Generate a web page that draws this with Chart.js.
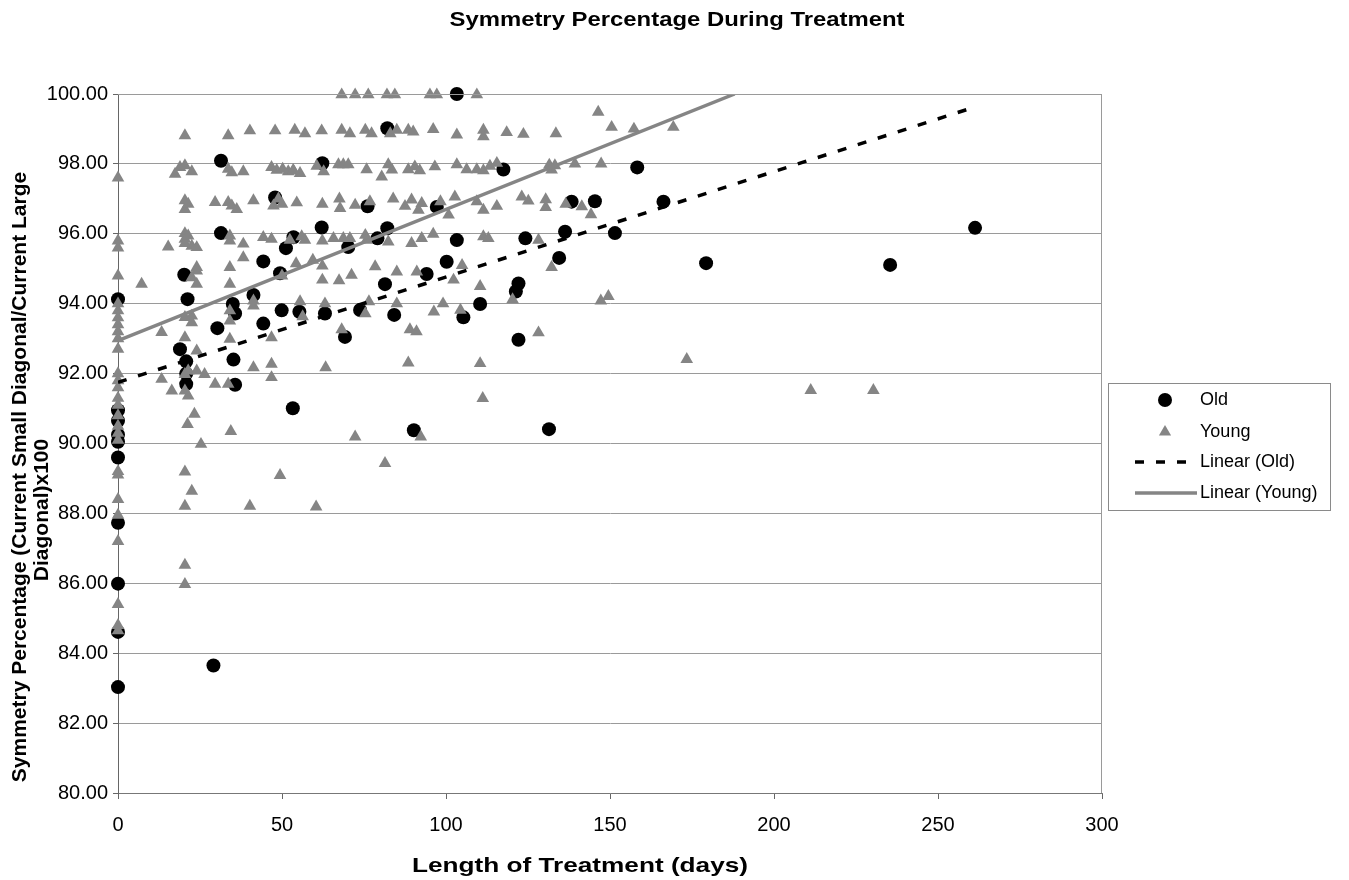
<!DOCTYPE html>
<html>
<head>
<meta charset="utf-8">
<title>Symmetry Percentage During Treatment</title>
<script src="https://cdn.jsdelivr.net/npm/chart.js@4.4.0/dist/chart.umd.min.js"></script>
<style>
  html, body { margin: 0; padding: 0; background: #fff; }
</style>
</head>
<body>
<canvas id="grafico-simetria" width="1349" height="880"></canvas>
<script>
// Old patients: [days of treatment, symmetry %]
const oldPoints = [
  [0, 94.13], [0, 90.95], [0, 90.65], [0, 90.25], [0, 90.05], [0, 89.6], [0, 87.73], [0, 85.99], [0, 84.61], [0, 83.03],
  [18.9, 92.7], [20.2, 94.83], [21.2, 94.13], [20.8, 92.35], [20.8, 92.0], [20.8, 91.7],
  [29.1, 83.65], [30.3, 93.3], [31.4, 98.09], [31.4, 96.02], [35.0, 93.99], [35.7, 93.72], [35.2, 92.4], [35.7, 91.68],
  [41.3, 94.25], [44.3, 95.21], [44.3, 93.43], [47.9, 97.04], [49.4, 94.87], [49.9, 93.81], [51.2, 95.59],
  [53.3, 91.01], [53.5, 95.9], [55.3, 93.77],
  [62.1, 96.18], [62.3, 98.02], [63.1, 93.72], [69.2, 93.05], [70.2, 95.62], [73.8, 93.82], [76.1, 96.79], [79.1, 95.87],
  [81.4, 94.56], [82.1, 99.02], [82.1, 96.16], [84.2, 93.68], [90.2, 90.38], [94.1, 94.85], [97.2, 96.77],
  [100.2, 95.2], [103.3, 100], [103.3, 95.82], [105.3, 93.61], [110.4, 93.99], [117.5, 97.84],
  [121.3, 94.35], [122.1, 94.58], [122.1, 92.97], [124.2, 95.87], [131.4, 90.41], [134.5, 95.31], [136.3, 96.06],
  [138.3, 96.92], [145.4, 96.93], [151.5, 96.02], [158.3, 97.9], [166.3, 96.92], [179.3, 95.16],
  [235.4, 95.11], [261.3, 96.17]
];

// Young patients: [days of treatment, symmetry %]
const youngPoints = [
  // start of treatment
  [0, 97.6], [0, 95.8], [0, 95.6], [0, 94.8], [0, 94.0], [0, 93.8], [0, 93.6], [0, 93.4], [0, 93.2], [0, 93.0],
  [0, 92.7], [0, 92.0], [0, 91.8], [0, 91.6], [0, 91.3], [0, 91.1], [0, 90.8], [0, 90.5], [0, 90.3], [0, 90.1],
  [0, 89.2], [0, 89.1], [0, 88.4], [0, 87.95], [0, 87.2], [0, 85.4], [0, 84.8], [0, 84.65],
  // first weeks
  [7.2, 94.56], [13.3, 93.18], [13.3, 91.84], [15.3, 95.63], [16.4, 91.51], [17.4, 97.71], [18.9, 97.9],
  [20.4, 98.81], [20.4, 97.95], [20.4, 96.95], [20.4, 96.7], [20.4, 96.01], [20.4, 95.85], [20.4, 95.73],
  [20.4, 93.61], [20.4, 93.03], [20.4, 91.98], [20.4, 91.51], [20.4, 89.19], [20.4, 88.21], [20.4, 86.52], [20.4, 85.97],
  [21.4, 96.85], [21.4, 95.94], [21.4, 92.08], [21.4, 91.36], [21.2, 90.55],
  [22.5, 97.78], [22.5, 95.65], [22.5, 94.75], [22.5, 93.65], [22.5, 93.46], [22.5, 88.64], [23.3, 90.84],
  [24.0, 95.61], [24.0, 95.04], [24.0, 94.94], [24.0, 94.56], [24.0, 92.65], [24.0, 92.08],
  [25.3, 89.98], [26.4, 91.98], [29.6, 96.9], [29.6, 91.7],
  [33.6, 98.81], [33.6, 97.85], [33.6, 96.9], [33.6, 91.7],
  [34.1, 95.94], [34.1, 95.8], [34.1, 95.04], [34.1, 94.56], [34.1, 93.8], [34.1, 93.51], [34.1, 92.99], [34.4, 90.35],
  [34.7, 97.75], [34.7, 96.8], [36.2, 96.7], [38.2, 97.78], [38.2, 95.71], [38.2, 95.32],
  [40.2, 98.95], [40.2, 88.21], [41.3, 96.95], [41.3, 93.94], [41.3, 94.08], [41.3, 92.17], [44.3, 95.9],
  [46.8, 97.9], [46.8, 95.85], [46.8, 93.03], [46.8, 92.27], [46.8, 91.89], [47.4, 96.8], [47.9, 98.95],
  [48.4, 97.82], [48.9, 97.0], [49.4, 89.09], [50.0, 96.85], [50.0, 94.8], [50.2, 97.85], [51.9, 97.78], [53.4, 97.82],
  // 100% row
  [68.2, 99.98], [72.3, 99.98], [76.3, 99.98], [82.0, 99.98], [84.4, 99.98], [95.1, 99.98], [97.2, 99.98], [109.4, 99.98],
  // ~99 row
  [53.9, 98.97], [57.0, 98.87], [62.1, 98.95], [68.2, 98.97], [70.7, 98.87], [75.4, 98.97], [77.3, 98.87], [83.0, 98.87],
  [85.0, 98.97], [88.5, 98.97], [90.0, 98.92], [96.1, 98.99], [103.3, 98.83], [111.4, 98.97], [111.4, 98.78],
  [118.5, 98.9], [123.6, 98.85],
  // ~98 row
  [53.5, 97.8], [55.5, 97.73], [60.6, 97.94], [62.7, 97.78], [67.2, 97.98], [68.7, 97.98], [70.2, 97.98], [75.8, 97.84],
  [80.4, 97.63], [82.4, 97.98], [83.5, 97.83], [88.5, 97.84], [90.5, 97.92], [92.0, 97.81], [96.6, 97.92], [103.3, 97.98],
  [106.3, 97.84], [109.4, 97.84], [111.4, 97.81], [113.4, 97.94], [115.5, 98.02],
  // ~97 row
  [54.5, 96.89], [62.3, 96.85], [67.5, 97.0], [67.7, 96.73], [72.3, 96.82], [76.8, 96.92], [83.9, 97.0], [87.5, 96.79],
  [89.5, 96.97], [91.6, 96.68], [92.6, 96.87], [98.3, 96.92], [100.8, 96.54], [102.7, 97.06], [109.4, 96.92],
  [111.4, 96.68], [115.5, 96.79], [123.1, 97.06], [125.1, 96.94],
  // ~96 row
  [52.4, 95.82], [56.0, 95.92], [57.0, 95.82], [62.3, 95.8], [65.7, 95.87], [68.7, 95.87], [70.7, 95.87], [75.4, 95.96],
  [75.8, 95.82], [82.4, 95.77], [89.5, 95.73], [92.6, 95.87], [96.1, 95.99], [111.4, 95.92], [112.9, 95.87], [128.2, 95.82],
  // 92 - 95
  [59.4, 95.25], [54.3, 95.15], [62.3, 95.08], [78.4, 95.06], [85.0, 94.91], [91.1, 94.91], [104.9, 95.1],
  [62.3, 94.68], [67.4, 94.66], [71.2, 94.82], [102.3, 94.68], [110.4, 94.5],
  [55.5, 94.06], [56.3, 93.63], [63.1, 94.0], [76.5, 94.06], [75.4, 93.72], [85.0, 94.0], [96.3, 93.77], [99.1, 94.0],
  [104.4, 93.82], [120.3, 94.12],
  [68.2, 93.26], [89.0, 93.26], [91.0, 93.2], [128.2, 93.17],
  [63.3, 92.17], [88.5, 92.31], [110.4, 92.29], [111.2, 91.29],
  [72.3, 90.19], [92.3, 90.19], [81.4, 89.43], [60.4, 88.19],
  // late treatment
  [146.4, 99.48], [150.5, 99.05], [157.3, 99.0], [169.3, 99.05], [133.5, 98.87],
  [131.5, 97.97], [133.2, 97.95], [132.2, 97.83], [139.3, 98.0], [147.3, 98.0],
  [130.4, 96.98], [130.4, 96.76], [136.5, 96.85], [141.4, 96.78], [144.2, 96.55],
  [132.2, 95.04], [149.5, 94.21], [147.2, 94.08], [173.4, 92.41],
  [211.2, 91.52], [230.3, 91.52]
];

// trendlines as shown in the chart (start / end)
const oldTrend = [[0, 91.75], [261, 99.62]];
const youngTrend = [[0, 92.94], [188, 100]];

const legendLabels = ["Old", "Young", "Linear (Old)", "Linear (Young)"];
const chartTitle = "Symmetry Percentage During Treatment";
const xTitle = "Length of Treatment (days)";
const yTitle = ["Symmetry Percentage (Current Small Diagonal/Current Large", "Diagonal)x100"];

const fonte = "'Liberation Sans', Arial, sans-serif";
const cinza = "#858585";

function paraXY(lista) {
  return lista.map(p => ({ x: p[0], y: p[1] }));
}

// text a bit wider than the font, like the scanned original
function textoLargo(ctx, txt, x, y, largura) {
  const w = ctx.measureText(txt).width;
  ctx.save();
  ctx.translate(x, y);
  ctx.scale(largura / w, 1);
  ctx.fillText(txt, 0, 0);
  ctx.restore();
}

// titles, plot frame and legend box
const molduraPlugin = {
  id: "moldura",
  afterDraw(chart) {
    const { ctx, chartArea: a } = chart;
    ctx.save();
    ctx.strokeStyle = "#9a9a9a";
    ctx.lineWidth = 1;
    ctx.beginPath();
    ctx.moveTo(a.left, a.top + 0.5);
    ctx.lineTo(a.right - 0.5, a.top + 0.5);
    ctx.lineTo(a.right - 0.5, a.bottom);
    ctx.stroke();

    // titles
    ctx.fillStyle = "#000";
    ctx.textAlign = "center";
    ctx.textBaseline = "middle";
    ctx.font = "bold 21px " + fonte;
    textoLargo(ctx, chartTitle, 677, 20, 455);
    textoLargo(ctx, xTitle, 580, 866, 336);
    ctx.save();
    ctx.translate(20, 477);
    ctx.rotate(-Math.PI / 2);
    ctx.fillText(yTitle[0], 0, 0);
    ctx.restore();
    ctx.save();
    ctx.translate(42, 510);
    ctx.rotate(-Math.PI / 2);
    ctx.fillText(yTitle[1], 0, 0);
    ctx.restore();

    // legend
    const lx = 1108, ly = 383, lw = 222, lh = 127;
    ctx.strokeStyle = "#8a8a8a";
    ctx.lineWidth = 1;
    ctx.strokeRect(lx + 0.5, ly + 0.5, lw, lh);
    const linhas = [400, 432, 462, 493];
    ctx.font = "18px " + fonte;
    ctx.textAlign = "left";
    ctx.fillStyle = "#000";
    legendLabels.forEach((txt, i) => ctx.fillText(txt, 1200, linhas[i]));

    // Old marker
    ctx.fillStyle = "#000";
    ctx.beginPath();
    ctx.arc(1165, linhas[0], 7, 0, Math.PI * 2);
    ctx.fill();
    // Young marker
    ctx.fillStyle = cinza;
    ctx.beginPath();
    ctx.moveTo(1165, linhas[1] - 7);
    ctx.lineTo(1165 + 6.1, linhas[1] + 3.5);
    ctx.lineTo(1165 - 6.1, linhas[1] + 3.5);
    ctx.closePath();
    ctx.fill();
    // Linear (Old)
    ctx.strokeStyle = "#000";
    ctx.lineWidth = 3.5;
    ctx.setLineDash([9, 12]);
    ctx.beginPath();
    ctx.moveTo(1135, linhas[2]);
    ctx.lineTo(1197, linhas[2]);
    ctx.stroke();
    // Linear (Young)
    ctx.setLineDash([]);
    ctx.strokeStyle = cinza;
    ctx.beginPath();
    ctx.moveTo(1135, linhas[3]);
    ctx.lineTo(1197, linhas[3]);
    ctx.stroke();
    ctx.restore();
  }
};

document.addEventListener("DOMContentLoaded", function () {
  const ctx = document.getElementById("grafico-simetria").getContext("2d");

  new Chart(ctx, {
    type: "scatter",
    data: {
      datasets: [
        {
          label: legendLabels[2],
          data: paraXY(oldTrend),
          showLine: true,
          borderColor: "#000",
          borderWidth: 3.5,
          borderDash: [9, 12],
          pointRadius: 0,
          order: 0
        },
        {
          label: legendLabels[3],
          data: paraXY(youngTrend),
          showLine: true,
          borderColor: cinza,
          borderWidth: 3.5,
          pointRadius: 0,
          order: 0
        },
        {
          label: legendLabels[1],
          data: paraXY(youngPoints),
          pointStyle: "triangle",
          pointRadius: 7.3,
          backgroundColor: cinza,
          borderColor: cinza,
          borderWidth: 0,
          clip: false,
          order: 1
        },
        {
          label: legendLabels[0],
          data: paraXY(oldPoints),
          pointStyle: "circle",
          pointRadius: 7,
          backgroundColor: "#000",
          borderColor: "#000",
          borderWidth: 0,
          clip: false,
          order: 2
        }
      ]
    },
    options: {
      responsive: false,
      animation: false,
      layout: { padding: { left: 0, right: 247, top: 94, bottom: 0 } },
      plugins: {
        legend: { display: false },
        tooltip: { enabled: false },
        title: { display: false }
      },
      scales: {
        x: {
          type: "linear",
          min: 0,
          max: 300,
          ticks: {
            stepSize: 50,
            color: "#000",
            padding: 14,
            font: { family: fonte, size: 20 }
          },
          grid: { drawOnChartArea: false, tickLength: 6, tickColor: "#666" },
          border: { color: "#777", width: 1 },
          afterFit: s => { s.height = 87; }
        },
        y: {
          min: 80,
          max: 100,
          ticks: {
            stepSize: 2,
            color: "#000",
            padding: 5,
            font: { family: fonte, size: 20 },
            callback: v => v.toFixed(2)
          },
          grid: { color: "#9a9a9a", lineWidth: 1, tickLength: 5, tickColor: "#666" },
          border: { color: "#666", width: 1 },
          afterFit: s => { s.width = 118; }
        }
      }
    },
    plugins: [molduraPlugin]
  });
});
</script>
</body>
</html>
